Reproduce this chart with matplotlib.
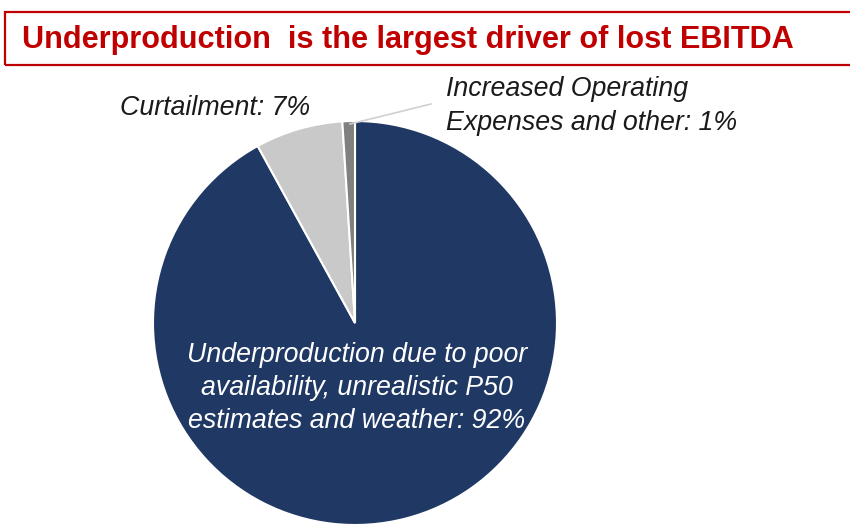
import matplotlib
matplotlib.use("Agg")
import matplotlib.pyplot as plt
from matplotlib.patches import Rectangle

plt.rcParams['font.family'] = ['Liberation Sans', 'DejaVu Sans']

# Data
categories = [
    "Underproduction due to poor\navailability, unrealistic P50\nestimates and weather",
    "Curtailment",
    "Increased Operating\nExpenses and other",
]
shares = [92, 7, 1]
colors = ["#203864", "#C9C9C9", "#808080"]
title = "Underproduction  is the largest driver of lost EBITDA"

W, H = 850, 525
fig = plt.figure(figsize=(W / 100, H / 100), dpi=100)

# Title box
fig.patches.append(Rectangle((5 / W, 1 - 65 / H), 860 / W, 53 / H,
                             transform=fig.transFigure, fill=False,
                             edgecolor="#C00000", linewidth=1.6))
fig.text(22 / W, 1 - 40 / H, title, color="#C00000", fontsize=22.1,
         fontweight="bold", ha="left", va="center")

# Pie
cx, cy, r = 355, 323, 202
ax = fig.add_axes([(cx - r) / W, 1 - (cy + r) / H, 2 * r / W, 2 * r / H])
wedges, _ = ax.pie(shares, colors=colors, startangle=90, counterclock=False,
                   wedgeprops=dict(edgecolor="white", linewidth=1.5))
ax.set_xlim(-1, 1)
ax.set_ylim(-1, 1)
ax.set_aspect("equal")
ax.axis("off")

lbl = dict(fontsize=19.3, style="italic")
fig.text(357 / W, 1 - 388 / H, f"{categories[0]}: {shares[0]}%",
         color="white", ha="center", va="center", linespacing=1.36, **lbl)
fig.text(120 / W, 1 - 108 / H, f"{categories[1]}: {shares[1]}%",
         color="#1A1A1A", ha="left", va="center", **lbl)
fig.text(446 / W, 1 - 106 / H, f"{categories[2]}: {shares[2]}%",
         color="#1A1A1A", ha="left", va="center", linespacing=1.42, **lbl)

# Leader line for the smallest slice
fig.add_artist(plt.Line2D([350 / W, 431 / W], [1 - 124 / H, 1 - 104 / H],
                          transform=fig.transFigure, color="#D0D0D0",
                          linewidth=1.2))

fig.savefig("out.png", dpi=100)
